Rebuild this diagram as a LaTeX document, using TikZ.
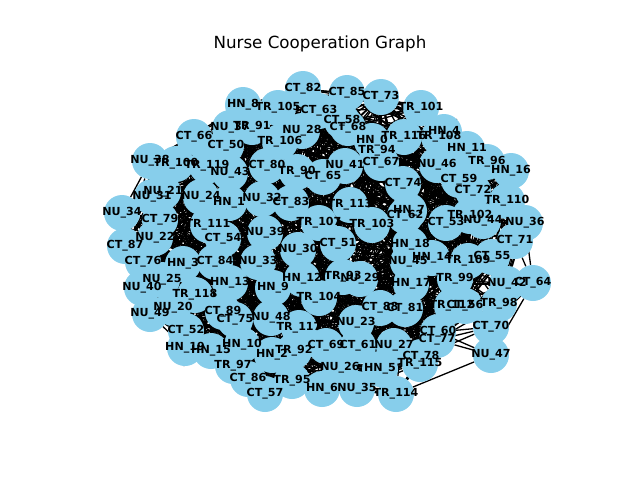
\documentclass[tikz,border=0pt]{standalone}
\usepackage{fontspec}
\setmainfont{DejaVu Sans}
\usetikzlibrary{backgrounds}
\definecolor{skyb}{HTML}{87CEEB}
\tikzset{
  nodecirc/.style={circle, fill=skyb, minimum size=36pt, inner sep=0pt},
  nodelbl/.style={font=\bfseries\fontsize{11.1}{13}\selectfont, inner sep=0pt},
  edgeline/.style={draw=black, line width=1.3pt},
  titlelbl/.style={font=\fontsize{16.7}{20}\selectfont, inner sep=0pt}
}
\def\nodelist{%
HN0/HN\_0/372/141, HN1/HN\_1/229/203, HN2/HN\_2/272/355, HN3/HN\_3/183/264, HN4/HN\_4/444/132,
HN5/HN\_5/380/369, HN6/HN\_6/322/389, HN7/HN\_7/409/211, HN8/HN\_8/243/105, HN9/HN\_9/273/288,
HN10/HN\_10/242/345, HN11/HN\_11/467/149, HN12/HN\_12/302/279, HN13/HN\_13/230/283, HN14/HN\_14/432/258,
HN15/HN\_15/211/351, HN16/HN\_16/511/171, HN17/HN\_17/411/284, HN18/HN\_18/410/245, HN19/HN\_19/185/348,
NU20/NU\_20/173/308, NU21/NU\_21/163/192, NU22/NU\_22/155/238, NU23/NU\_23/356/323, NU24/NU\_24/201/197,
NU25/NU\_25/162/280, NU26/NU\_26/340/368, NU27/NU\_27/394/346, NU28/NU\_28/302/131, NU29/NU\_29/360/279,
NU30/NU\_30/298/250, NU31/NU\_31/152/197, NU32/NU\_32/262/199, NU33/NU\_33/258/262, NU34/NU\_34/122/213,
NU35/NU\_35/357/389, NU36/NU\_36/525/223, NU37/NU\_37/230/128, NU38/NU\_38/150/161, NU39/NU\_39/265/233,
NU40/NU\_40/142/288, NU41/NU\_41/345/166, NU42/NU\_42/507/284, NU43/NU\_43/230/173, NU44/NU\_44/483/221,
NU45/NU\_45/408/262, NU46/NU\_46/437/165, NU47/NU\_47/491/355, NU48/NU\_48/271/318, NU49/NU\_49/150/314,
CT50/CT\_50/226/146, CT51/CT\_51/338/244, CT52/CT\_52/186/331, CT53/CT\_53/446/223, CT54/CT\_54/223/239,
CT55/CT\_55/492/257, CT56/CT\_56/465/306, CT57/CT\_57/265/394, CT58/CT\_58/342/121, CT59/CT\_59/459/180,
CT60/CT\_60/438/332, CT61/CT\_61/358/346, CT62/CT\_62/405/216, CT63/CT\_63/319/111, CT64/CT\_64/533/283,
CT65/CT\_65/323/177, CT66/CT\_66/194/137, CT67/CT\_67/381/163, CT68/CT\_68/348/128, CT69/CT\_69/326/346,
CT70/CT\_70/491/327, CT71/CT\_71/515/241, CT72/CT\_72/473/191, CT73/CT\_73/381/97, CT74/CT\_74/403/184,
CT75/CT\_75/235/320, CT76/CT\_76/143/262, CT77/CT\_77/437/340, CT78/CT\_78/421/357, CT79/CT\_79/160/220,
CT80/CT\_80/267/166, CT81/CT\_81/405/309, CT82/CT\_82/303/89, CT83/CT\_83/291/203, CT84/CT\_84/215/262,
CT85/CT\_85/347/93, CT86/CT\_86/248/379, CT87/CT\_87/125/246, CT88/CT\_88/380/308, CT89/CT\_89/223/312,
TR90/TR\_90/297/172, TR91/TR\_91/252/127, TR92/TR\_92/294/351, TR93/TR\_93/343/277, TR94/TR\_94/377/151,
TR95/TR\_95/292/381, TR96/TR\_96/487/162, TR97/TR\_97/233/366, TR98/TR\_98/499/304, TR99/TR\_99/455/279,
TR100/TR\_100/176/164, TR101/TR\_101/421/108, TR102/TR\_102/470/216, TR103/TR\_103/372/225, TR104/TR\_104/319/298,
TR105/TR\_105/278/108, TR106/TR\_106/280/142, TR107/TR\_107/319/223, TR108/TR\_108/439/137, TR109/TR\_109/468/261,
TR110/TR\_110/507/201, TR111/TR\_111/208/225, TR112/TR\_112/452/306, TR113/TR\_113/350/205, TR114/TR\_114/396/394,
TR115/TR\_115/420/364, TR116/TR\_116/404/137, TR117/TR\_117/299/328, TR118/TR\_118/195/295, TR119/TR\_119/207/166}
\begin{document}
\begin{tikzpicture}[x=1pt,y=-1pt]
\useasboundingbox (0,0) rectangle (640,480);
\node[titlelbl] (title) at (320,44) {Nurse Cooperation Graph};
\foreach \nm/\t/\x/\y [count=\i] in \nodelist {
  \node[nodecirc, alias=\nm] (n\i) at (\x,\y) {};
  \expandafter\xdef\csname px\i\endcsname{\x}
  \expandafter\xdef\csname py\i\endcsname{\y}
  \expandafter\xdef\csname th\i\endcsname{140}
}
% shorter reach for the nodes on the lower right rim
\foreach \k/\v in {48/60, 71/80, 99/90, 65/70, 37/90, 43/100, 115/90}{
  \expandafter\xdef\csname th\k\endcsname{\v}
}
\begin{scope}[on background layer]
\foreach \i in {1,...,119}{
  \pgfmathtruncatemacro\ip{\i+1}
  \foreach \j in {\ip,...,120}{
    \pgfmathsetmacro\dd{veclen(\csname px\i\endcsname-\csname px\j\endcsname,\csname py\i\endcsname-\csname py\j\endcsname)}
    \pgfmathsetmacro\thr{min(\csname th\i\endcsname,\csname th\j\endcsname)}
    \ifdim\dd pt<\thr pt \draw[edgeline] (n\i) -- (n\j);\fi
  }
}
\draw[edgeline] (NU47) -- (TR114);
\draw[edgeline] (CT64) -- (NU47);
\end{scope}
\foreach \nm/\t/\x/\y [count=\i] in \nodelist {
  \node[nodelbl] (l\i) at (n\i) {\t};
}
\end{tikzpicture}
\end{document}
